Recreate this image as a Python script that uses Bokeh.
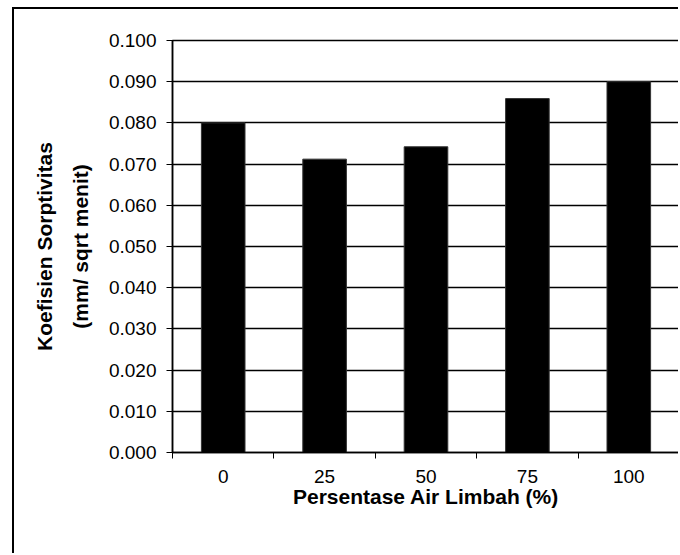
import numpy as np
from bokeh.plotting import figure
from bokeh.models import FixedTicker, NumeralTickFormatter, Range1d, ColumnDataSource
from bokeh.embed import file_html
from bokeh.resources import INLINE

categories = ["0", "25", "50", "75", "100"]
values = [0.080, 0.0712, 0.0742, 0.0859, 0.090]
y_ticks = [0.0, 0.01, 0.02, 0.03, 0.04, 0.05, 0.06, 0.07, 0.08, 0.09, 0.10]

n = len(categories)
centers = [i + 0.5 for i in range(n)]
source = ColumnDataSource(dict(x=centers, top=values, cat=categories))

p = figure(width=666, height=546, output_backend="svg", toolbar_location=None,
           x_range=Range1d(0, n), y_range=Range1d(0, 0.1),
           min_border_left=158, min_border_right=1, min_border_top=31, min_border_bottom=103)
p.margin = (7, 0, 0, 12)
p.styles = {"border-left": "2px solid black", "border-top": "2px solid black"}

p.vbar(x="x", top="top", width=0.43, bottom=0, source=source,
       fill_color="black", line_color="#333333", line_width=1)

p.background_fill_color = "white"
p.border_fill_color = "white"
p.outline_line_color = "black"
p.outline_line_width = 1.5
p.outline_line_alpha = 1

# y axis
p.yaxis.ticker = FixedTicker(ticks=y_ticks)
p.yaxis.formatter = NumeralTickFormatter(format="0.000")
p.yaxis.major_tick_out = 6
p.yaxis.major_tick_in = 0
p.yaxis.minor_tick_line_color = None
p.yaxis.axis_line_color = "black"
p.yaxis.axis_line_width = 1.5
p.yaxis.major_tick_line_color = "black"
p.yaxis.major_label_text_font = "Liberation Sans"
p.yaxis.major_label_text_font_size = "19px"
p.yaxis.major_label_text_color = "black"
p.yaxis.major_label_standoff = 10
p.yaxis.axis_label = "Koefisien Sorptivitas\n(mm/ sqrt menit)"
p.yaxis.axis_label_text_font = "Liberation Sans"
p.yaxis.axis_label_text_font_style = "bold"
p.yaxis.axis_label_text_font_size = "21px"
p.yaxis.axis_label_text_color = "black"
p.yaxis.axis_label_text_line_height = 1.55
p.yaxis.axis_label_standoff = 14

# x axis
p.xaxis.ticker = FixedTicker(ticks=centers, minor_ticks=list(range(n + 1)))
p.xaxis.major_label_overrides = {c: lab for c, lab in zip(centers, categories)}
p.xaxis.major_tick_out = 0
p.xaxis.major_tick_in = 0
p.xaxis.minor_tick_out = 6
p.xaxis.minor_tick_in = 0
p.xaxis.minor_tick_line_color = "black"
p.xaxis.axis_line_color = "black"
p.xaxis.axis_line_width = 1.5
p.xaxis.major_label_text_font = "Liberation Sans"
p.xaxis.major_label_text_font_size = "19px"
p.xaxis.major_label_text_color = "black"
p.xaxis.major_label_standoff = 11
p.xaxis.axis_label = "Persentase Air Limbah (%)"
p.xaxis.axis_label_text_font = "Liberation Sans"
p.xaxis.axis_label_text_font_style = "bold"
p.xaxis.axis_label_text_font_size = "21px"
p.xaxis.axis_label_text_color = "black"
p.xaxis.axis_label_standoff = -1

# grid
p.xgrid.grid_line_color = None
p.ygrid.ticker = FixedTicker(ticks=y_ticks)
p.ygrid.grid_line_color = "black"
p.ygrid.grid_line_width = 1.5
p.ygrid.grid_line_alpha = 1

open("out.html", "w").write(file_html(p, INLINE))
